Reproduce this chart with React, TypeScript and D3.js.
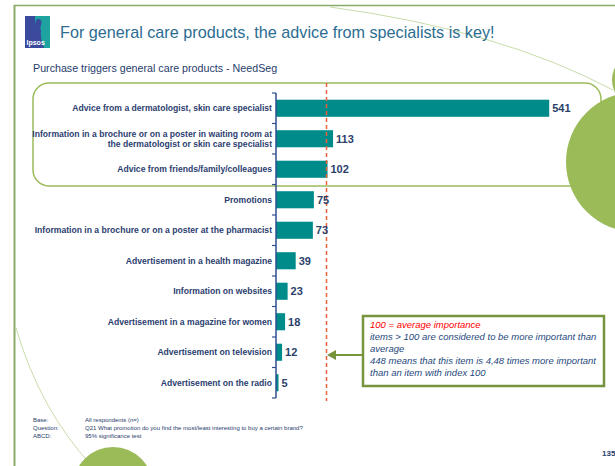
import React from "react";
import * as d3 from "d3";

const categories = [
  "Advice from a dermatologist, skin care specialist",
  "Information in a brochure or on a poster in waiting room at\nthe dermatologist or skin care specialist",
  "Advice from friends/family/colleagues",
  "Promotions",
  "Information in a brochure or on a poster at the pharmacist",
  "Advertisement in a health magazine",
  "Information on websites",
  "Advertisement in a magazine for women",
  "Advertisement on television",
  "Advertisement on the radio",
];
const values = [541, 113, 102, 75, 73, 39, 23, 18, 12, 5];
const referenceValue = 100;
const title = "For general care products, the advice from specialists is key!";
const subtitle = "Purchase triggers general care products - NeedSeg";
const noteLines = [
  { text: "100 = average importance", red: true },
  { text: "items > 100 are considered to be more important than", red: false },
  { text: "average", red: false },
  { text: "448 means that this item is 4,48 times more important", red: false },
  { text: "than an item with index 100", red: false },
];
const footLabels = ["Base:", "Question:", "ABCD:"];
const footTexts = [
  "All respondents (n=)",
  "Q21 What promotion do you find the most/least interesting to buy a certain brand?",
  "95% significance test",
];
const pageNumber = "135";

const W = 615;
const H = 466;
const GREEN = "#9bbb59";
const DARK_GREEN = "#77933c";
const BAR = "#008b8b";
const AXIS = "#2f4f8f";
const LABEL = "#2c3e70";

export default function App() {
  const y = d3
    .scaleBand<number>()
    .domain(d3.range(categories.length))
    .range([93, 398])
    .paddingInner(0.44)
    .paddingOuter(0.22);
  const x = d3.scaleLinear().domain([0, 600]).range([276, 579]);
  const step = y.step();
  const bw = y.bandwidth();
  const boundaries = d3.range(categories.length + 1).map((i) =>
    i < categories.length ? (y(i) as number) + bw / 2 - step / 2 : (y(i - 1) as number) + bw / 2 + step / 2
  );
  const xRef = x(referenceValue);

  return (
    <div style={{ position: "absolute", left: 0, top: 0 }}>
      <svg width={W} height={H} style={{ display: "block", background: "#fff" }} fontFamily="'Liberation Sans', Arial, sans-serif">
        <path d="M330,7 Q500,30 613,90" fill="none" stroke="#c9dcaa" strokeWidth={1} />
        <path d="M16,328 Q40,410 92,466" fill="none" stroke="#c9dcaa" strokeWidth={1} />
        <circle cx={640} cy={80} r={28} fill={GREEN} />
        <circle cx={636} cy={162} r={70} fill={GREEN} />
        <circle cx={113} cy={487} r={40} fill={GREEN} />
        <line x1={14} y1={5.5} x2={W} y2={5.5} stroke="#8aaa6a" strokeWidth={1.5} />
        <line x1={14.5} y1={5} x2={14.5} y2={H} stroke="#8aaa6a" strokeWidth={2} />

        <rect x={25} y={16} width={25} height={32} fill="#3b4a9c" />
        <path d="M35,16 L50,16 L50,48 L44,48 Q40,38 41,30 Q34,28 35,16 Z" fill="#1fa3a1" />
        <ellipse cx={38.5} cy={23} rx={3} ry={4} fill="#3b4a9c" />
        <rect x={36.5} y={26} width={4} height={6} fill="#3b4a9c" />
        <text x={26.5} y={45} fontSize={7} fontWeight="bold" fill="#fff">Ipsos</text>

        <text x={60} y={38} fontSize={16.2} fill="#2c6d91">{title}</text>
        <text x={33} y={72} fontSize={10.7} fill="#1f3d6b">{subtitle}</text>

        <rect x={33} y={83} width={568} height={103} rx={16} ry={16} fill="none" stroke={GREEN} strokeWidth={1.5} />

        {values.map((v, i) => (
          <rect key={"b" + i} x={x(0)} y={y(i)} width={x(v) - x(0)} height={bw} fill={BAR} />
        ))}

        <line x1={276} y1={boundaries[0]} x2={276} y2={boundaries[boundaries.length - 1]} stroke={AXIS} strokeWidth={1.5} />
        {boundaries.map((b, i) => (
          <line key={"t" + i} x1={272} y1={b} x2={276} y2={b} stroke={AXIS} strokeWidth={1.2} />
        ))}

        {categories.map((c, i) => {
          const lines = c.split("\n");
          const cy = (y(i) as number) + bw / 2;
          return (
            <text key={"l" + i} x={272} textAnchor="end" fontSize={8.6} fontWeight="bold" fill={LABEL}>
              {lines.map((ln, j) => (
                <tspan key={j} x={272} y={cy + 3 + (j - (lines.length - 1) / 2) * 10}>
                  {ln}
                </tspan>
              ))}
            </text>
          );
        })}

        <line x1={xRef} y1={83} x2={xRef} y2={401} stroke="#e8603c" strokeWidth={1.5} strokeDasharray="4,3" />

        {values.map((v, i) => (
          <text key={"v" + i} x={x(v) + 3} y={(y(i) as number) + bw / 2 + 4} fontSize={11} fontWeight="bold" fill="#2a3f6a">
            {v}
          </text>
        ))}

        <line x1={334} y1={355} x2={363} y2={355} stroke={DARK_GREEN} strokeWidth={2} />
        <path d="M327,355 L336,350 L336,360 Z" fill={DARK_GREEN} />
        <rect x={363} y={316} width={241} height={70} fill="#fff" stroke={DARK_GREEN} strokeWidth={2.5} />
        {noteLines.map((n, i) => (
          <text key={"n" + i} x={370} y={327.5 + i * 12} fontSize={9.5} fontStyle="italic" fill={n.red ? "#ff0000" : "#1f497d"}>
            {n.text}
          </text>
        ))}

        {footLabels.map((f, i) => (
          <text key={"fl" + i} x={33} y={422 + i * 8} fontSize={6} fill="#1f3d6b">{f}</text>
        ))}
        {footTexts.map((f, i) => (
          <text key={"ft" + i} x={85} y={422 + i * 8} fontSize={6} fill="#1f3d6b">{f}</text>
        ))}
        <text x={602} y={456} fontSize={8} fontWeight="bold" fill="#1f3d6b">{pageNumber}</text>
      </svg>
    </div>
  );
}
